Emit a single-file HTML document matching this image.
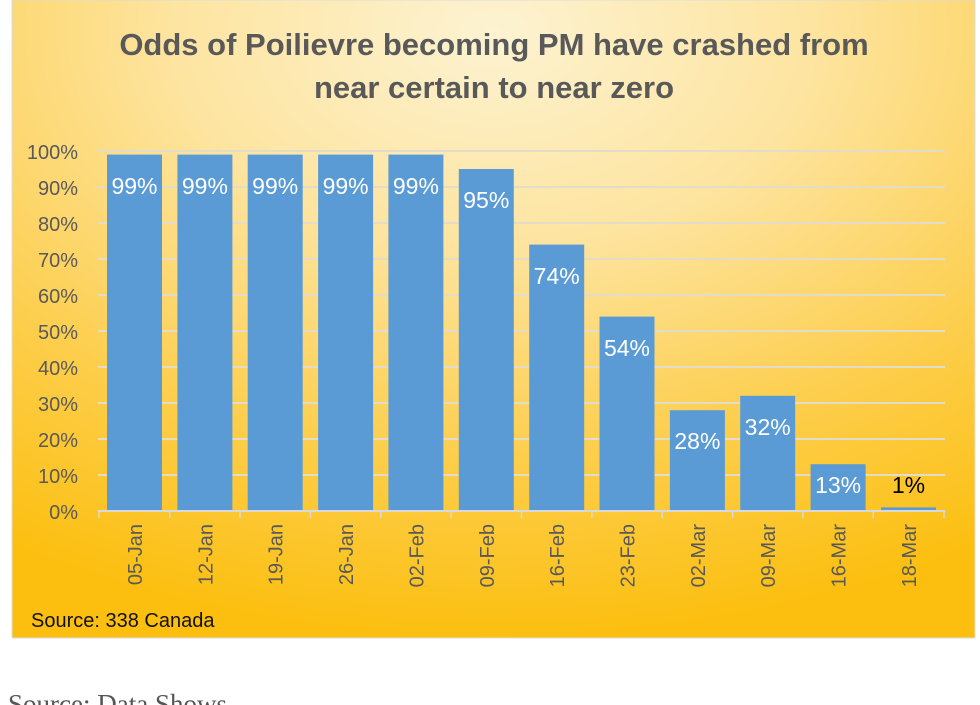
<!DOCTYPE html>
<html><head><meta charset="utf-8"><style>
html,body{margin:0;padding:0;background:#fff;width:980px;height:705px;overflow:hidden}
svg{display:block}
</style></head><body>
<svg width="980" height="705" xmlns="http://www.w3.org/2000/svg" font-family="Liberation Sans, sans-serif">
<defs>
<radialGradient id="bg" cx="0.5" cy="0.05" r="0.95" fx="0.5" fy="0.05">
<stop offset="0" stop-color="#fdf3d2"/>
<stop offset="0.35" stop-color="#fde4a0"/>
<stop offset="0.72" stop-color="#fdcd48"/>
<stop offset="1" stop-color="#fcbf10"/>
</radialGradient>
</defs>
<rect x="12" y="0" width="963" height="638" fill="url(#bg)"/>
<rect x="12" y="0" width="963" height="638" fill="none" stroke="#d8dde0" stroke-width="1"/>
<g font-weight="bold" font-size="31" fill="#595959" text-anchor="middle">
<text x="494" y="55">Odds of Poilievre becoming PM have crashed from</text>
<text x="494" y="98">near certain to near zero</text>
</g>
<g stroke="#e3dcc8" stroke-width="2">
<line x1="98" x2="945" y1="151" y2="151"/><line x1="98" x2="945" y1="187" y2="187"/>
<line x1="98" x2="945" y1="223" y2="223"/><line x1="98" x2="945" y1="259" y2="259"/>
<line x1="98" x2="945" y1="295" y2="295"/><line x1="98" x2="945" y1="331" y2="331"/>
<line x1="98" x2="945" y1="367" y2="367"/><line x1="98" x2="945" y1="403" y2="403"/>
<line x1="98" x2="945" y1="439" y2="439"/><line x1="98" x2="945" y1="475" y2="475"/>
</g>
<g font-size="20" fill="#595959" text-anchor="end">
<text x="78" y="159">100%</text><text x="78" y="195">90%</text><text x="78" y="231">80%</text>
<text x="78" y="267">70%</text><text x="78" y="303">60%</text><text x="78" y="339">50%</text>
<text x="78" y="375">40%</text><text x="78" y="411">30%</text><text x="78" y="447">20%</text>
<text x="78" y="483">10%</text><text x="78" y="519">0%</text>
</g>
<g fill="#5b9bd5">
<rect x="107" y="154.6" width="55" height="356.4"/>
<rect x="177.4" y="154.6" width="55" height="356.4"/>
<rect x="247.7" y="154.6" width="55" height="356.4"/>
<rect x="318.1" y="154.6" width="55" height="356.4"/>
<rect x="388.4" y="154.6" width="55" height="356.4"/>
<rect x="458.8" y="169" width="55" height="342"/>
<rect x="529.2" y="244.6" width="55" height="266.4"/>
<rect x="599.5" y="316.6" width="55" height="194.4"/>
<rect x="669.9" y="410.2" width="55" height="100.8"/>
<rect x="740.2" y="395.8" width="55" height="115.2"/>
<rect x="810.6" y="464.2" width="55" height="46.8"/>
<rect x="881" y="507.4" width="55" height="3.6"/>
</g>
<g stroke="#d9d9d9" stroke-width="2">
<line x1="98" x2="945" y1="511" y2="511"/>
</g>
<g stroke="#d9d9d9" stroke-width="1.5">
<line x1="99" x2="99" y1="511" y2="518"/><line x1="169.7" x2="169.7" y1="511" y2="518"/>
<line x1="240" x2="240" y1="511" y2="518"/><line x1="310.4" x2="310.4" y1="511" y2="518"/>
<line x1="380.8" x2="380.8" y1="511" y2="518"/><line x1="451.1" x2="451.1" y1="511" y2="518"/>
<line x1="521.5" x2="521.5" y1="511" y2="518"/><line x1="591.8" x2="591.8" y1="511" y2="518"/>
<line x1="662.2" x2="662.2" y1="511" y2="518"/><line x1="732.5" x2="732.5" y1="511" y2="518"/>
<line x1="802.9" x2="802.9" y1="511" y2="518"/><line x1="873.3" x2="873.3" y1="511" y2="518"/>
<line x1="944" x2="944" y1="511" y2="518"/>
</g>
<g font-size="23" fill="#fff" text-anchor="middle">
<text x="134.5" y="194">99%</text><text x="204.9" y="194">99%</text><text x="275.2" y="194">99%</text>
<text x="345.6" y="194">99%</text><text x="415.9" y="194">99%</text><text x="486.3" y="208">95%</text>
<text x="556.7" y="284">74%</text><text x="627" y="356">54%</text><text x="697.4" y="449">28%</text>
<text x="767.7" y="435">32%</text><text x="838.1" y="493">13%</text>
<text x="908.5" y="493" fill="#000">1%</text>
</g>
<g font-size="20" fill="#595959" text-anchor="end">
<text transform="translate(142,524) rotate(-90)">05-Jan</text>
<text transform="translate(212.4,524) rotate(-90)">12-Jan</text>
<text transform="translate(282.7,524) rotate(-90)">19-Jan</text>
<text transform="translate(353.1,524) rotate(-90)">26-Jan</text>
<text transform="translate(423.4,524) rotate(-90)">02-Feb</text>
<text transform="translate(493.8,524) rotate(-90)">09-Feb</text>
<text transform="translate(564.2,524) rotate(-90)">16-Feb</text>
<text transform="translate(634.5,524) rotate(-90)">23-Feb</text>
<text transform="translate(704.9,524) rotate(-90)">02-Mar</text>
<text transform="translate(775.2,524) rotate(-90)">09-Mar</text>
<text transform="translate(845.6,524) rotate(-90)">16-Mar</text>
<text transform="translate(916,524) rotate(-90)">18-Mar</text>
</g>
<text x="31" y="627" font-size="20" fill="#111">Source: 338 Canada</text>
<text x="8" y="713" font-size="27" fill="#555" font-family="Liberation Serif, serif">Source: Data Shows</text>
</svg>
</body></html>
